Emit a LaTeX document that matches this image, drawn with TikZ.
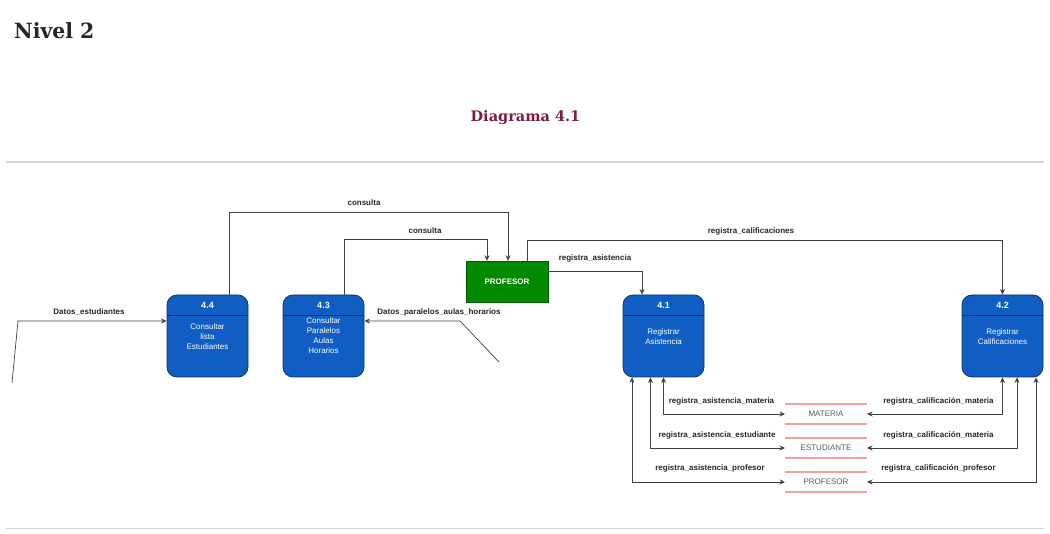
\documentclass[tikz,border=0pt]{standalone}
\usepackage{fontspec}
\setmainfont{Liberation Sans}
\newfontfamily\titlefont{DejaVu Serif}
\usetikzlibrary{arrows.meta}
\definecolor{procblue}{RGB}{16,94,196}
\definecolor{procedge}{RGB}{12,52,110}
\definecolor{entgreen}{RGB}{0,138,0}
\definecolor{entedge}{RGB}{0,88,0}
\definecolor{storered}{RGB}{245,160,160}
\definecolor{titlered}{RGB}{122,30,60}
\definecolor{rulegray}{RGB}{212,212,212}

\begin{document}
\begin{tikzpicture}[x=1pt,y=-1pt,
  proc/.style={draw=procedge,fill=procblue,rounded corners=10pt,minimum width=81pt,minimum height=82pt,line width=0.8pt},
  ent/.style={draw=entedge,fill=entgreen,minimum width=82pt,minimum height=41pt,text=white,font=\fontsize{8}{10}\selectfont\bfseries},
  procnum/.style={text=white,font=\fontsize{9}{11}\selectfont\bfseries},
  proctxt/.style={text=white,align=center,font=\fontsize{8}{10}\selectfont},
  store/.style={minimum width=82pt,minimum height=20pt,outer sep=0pt,text=black!65,font=\fontsize{8}{10}\selectfont},
  storeline/.style={draw=storered,line width=1.2pt},
  lbl/.style={text=black!85,font=\fontsize{8}{10}\selectfont\bfseries},
  flow/.style={draw=black!75,line width=0.7pt,-{Stealth[length=5.5pt,width=5pt]}},
  flowb/.style={flow,{Stealth[length=5.5pt,width=5pt]}-{Stealth[length=5.5pt,width=5pt]}},
]
\useasboundingbox (0,0) rectangle (1050,534);

\node[anchor=base west,inner sep=0pt,xscale=0.97,font=\titlefont\bfseries\fontsize{21}{25}\selectfont,text=black!85] (nivel) at (14,39) {Nivel 2};
\node[anchor=base,inner sep=0pt,xscale=1.0,font=\titlefont\bfseries\fontsize{14.5}{18}\selectfont,text=titlered] (diag) at (525.5,122) {Diagrama 4.1};
\draw[rulegray,line width=1.5pt] (6,162) -- (1044,162);
\draw[rulegray,line width=1pt] (6,528) -- (1044,528);

\node[ent] (prof) at (507,281.5) {PROFESOR};

\node[proc] (p44) at (207.5,336) {};
\draw[procedge,line width=0.8pt] ([yshift=-21pt]p44.north west) -- ([yshift=-21pt]p44.north east);
\node[procnum] (p44n) at (207.5,305) {4.4};
\node[proctxt] (p44t) at (207.5,337) {Consultar\\lista\\Estudiantes};

\node[proc] (p43) at (323.5,336) {};
\draw[procedge,line width=0.8pt] ([yshift=-21pt]p43.north west) -- ([yshift=-21pt]p43.north east);
\node[procnum] (p43n) at (323.5,305) {4.3};
\node[proctxt] (p43t) at (323.5,336) {Consultar\\Paralelos\\Aulas\\Horarios};

\node[proc] (p41) at (663.5,336) {};
\draw[procedge,line width=0.8pt] ([yshift=-21pt]p41.north west) -- ([yshift=-21pt]p41.north east);
\node[procnum] (p41n) at (663.5,305) {4.1};
\node[proctxt] (p41t) at (663.5,337) {Registrar\\Asistencia};

\node[proc] (p42) at (1002.5,336) {};
\draw[procedge,line width=0.8pt] ([yshift=-21pt]p42.north west) -- ([yshift=-21pt]p42.north east);
\node[procnum] (p42n) at (1002.5,305) {4.2};
\node[proctxt] (p42t) at (1002.5,337) {Registrar\\Calificaciones};

\node[store] (smat) at (826,414) {MATERIA};
\draw[storeline] (smat.north west) -- (smat.north east) (smat.south west) -- (smat.south east);
\node[store] (sest) at (826,448) {ESTUDIANTE};
\draw[storeline] (sest.north west) -- (sest.north east) (sest.south west) -- (sest.south east);
\node[store] (spro) at (826,482) {PROFESOR};
\draw[storeline] (spro.north west) -- (spro.north east) (spro.south west) -- (spro.south east);

\coordinate (de0) at (12,383);
\coordinate (de1) at (18,321);
\coordinate (dp0) at (499,362);
\coordinate (dp1) at (460,321);

\draw[flow] ([xshift=21.5pt]p44.north) -- ++(0,-82) -| ([xshift=1pt]prof.north);
\draw[flow] ([xshift=20.5pt]p43.north) -- ++(0,-55) -| ([xshift=-20pt]prof.north);
\draw[flow] ([xshift=20pt]prof.north) -- ++(0,-20) -| (p42.north);
\draw[flow] ([yshift=10.5pt]prof.east) -| ([xshift=-21.5pt]p41.north);
\draw[flow] (de0) -- (de1) -- (de1 -| p44.west);
\draw[flow] (dp0) -- (dp1) -- (dp1 -| p43.east);

\draw[flowb] (p41.south) |- (smat.west);
\draw[flowb] ([xshift=-13pt]p41.south) |- (sest.west);
\draw[flowb] ([xshift=-31.5pt]p41.south) |- (spro.west);
\draw[flowb] (p42.south) |- (smat.east);
\draw[flowb] ([xshift=14.5pt]p42.south) |- (sest.east);
\draw[flowb] ([xshift=33.5pt]p42.south) |- (spro.east);

\node[lbl] (lcon1) at (364,203) {consulta};
\node[lbl] (lcon2) at (425,231) {consulta};
\node[lbl] (lcal) at (751,231) {registra\_calificaciones};
\node[lbl] (lasi) at (595,258) {registra\_asistencia};
\node[lbl] (ldes) at (89,312) {Datos\_estudiantes};
\node[lbl] (ldpa) at (439,312) {Datos\_paralelos\_aulas\_horarios};
\node[lbl] (lam) at (721.5,401) {registra\_asistencia\_materia};
\node[lbl] (lae) at (717,435) {registra\_asistencia\_estudiante};
\node[lbl] (lap) at (710,468) {registra\_asistencia\_profesor};
\node[lbl] (lcm) at (938.5,401) {registra\_calificación\_materia};
\node[lbl] (lce) at (938.5,435) {registra\_calificación\_materia};
\node[lbl] (lcp) at (938.5,468) {registra\_calificación\_profesor};
\end{tikzpicture}
\end{document}
